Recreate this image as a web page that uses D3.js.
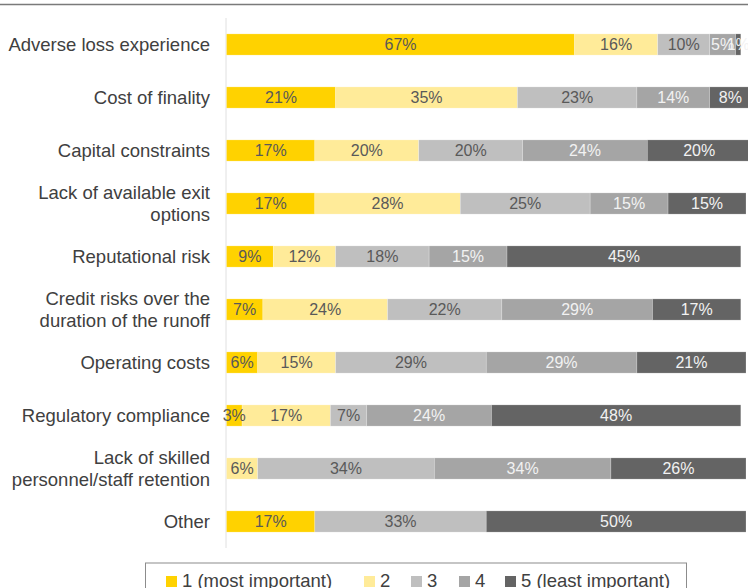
<!DOCTYPE html>
<html lang="en">
	<head>
		<meta charset="utf-8">
		<title>Runoff drivers - ranking</title>
		<script type="text/javascript" src="https://cdn.jsdelivr.net/npm/d3@7"></script>
		<style type="text/css">
			body { margin: 0; background: #fff; }
			svg { display: block; font-family: "Liberation Sans", Arial, sans-serif; }
		</style>
	</head>
	<body>
		<div id="chart"></div>
		<script type="text/javascript">

		// categories (top to bottom), each label split into its lines
		var categories = [
			["Adverse loss experience"],
			["Cost of finality"],
			["Capital constraints"],
			["Lack of available exit", "options"],
			["Reputational risk"],
			["Credit risks over the", "duration of the runoff"],
			["Operating costs"],
			["Regulatory compliance"],
			["Lack of skilled", "personnel/staff retention"],
			["Other"]
		];

		// share of respondents per rank, in %, one list per rank
		var rank1 = [67, 21, 17, 17,  9,  7,  6,  3,  0, 17];
		var rank2 = [16, 35, 20, 28, 12, 24, 15, 17,  6,  0];
		var rank3 = [10, 23, 20, 25, 18, 22, 29,  7, 34, 33];
		var rank4 = [ 5, 14, 24, 15, 15, 29, 29, 24, 34,  0];
		var rank5 = [ 1,  8, 20, 15, 45, 17, 21, 48, 26, 50];

		var seriesNames = ["1 (most important)", "2", "3", "4", "5 (least important)"];
		var colors = ["#ffd200", "#ffeb99", "#bfbfbf", "#a5a5a5", "#646464"];
		var labelColors = ["#595959", "#595959", "#595959", "#f2f2f2", "#f2f2f2"];

		var w = 748;
		var h = 588;

		var svg = d3.select("#chart")
					.append("svg")
					.attr("width", w)
					.attr("height", h);

		// build rows for the stack
		var rows = categories.map(function(c, i) {
			return { key: i, r0: rank1[i], r1: rank2[i], r2: rank3[i], r3: rank4[i], r4: rank5[i] };
		});
		var stack = d3.stack().keys(["r0", "r1", "r2", "r3", "r4"]);
		var stacked = stack(rows);

		var x = d3.scaleLinear().domain([0, 100]).range([226.5, 746]);
		var y = d3.scaleBand()
					.domain(d3.range(categories.length))
					.range([18, 548])
					.paddingInner(0.6)
					.paddingOuter(0.3);

		// top rule
		svg.append("line")
			.attr("x1", 0).attr("x2", w)
			.attr("y1", 4.5).attr("y2", 4.5)
			.attr("stroke", "#7a7a7a")
			.attr("stroke-width", 1.5);

		// vertical axis line
		svg.append("line")
			.attr("x1", 226).attr("x2", 226)
			.attr("y1", 18).attr("y2", 548)
			.attr("stroke", "#e0e0e0")
			.attr("stroke-width", 1);

		// bars
		var layers = svg.selectAll("g.layer")
			.data(stacked)
			.enter()
			.append("g")
			.attr("class", "layer")
			.attr("fill", function(d, i) { return colors[i]; });

		layers.selectAll("rect")
			.data(function(d) { return d.filter(function(p) { return p[1] > p[0]; }); })
			.enter()
			.append("rect")
			.attr("x", function(d) { return x(d[0]); })
			.attr("y", function(d) { return y(d.data.key); })
			.attr("width", function(d) { return x(d[1]) - x(d[0]); })
			.attr("height", y.bandwidth())
			.attr("stroke", "#ffffff")
			.attr("stroke-opacity", 0.35)
			.attr("stroke-width", 0.6);

		// value labels
		stacked.forEach(function(layer, li) {
			svg.append("g")
				.selectAll("text")
				.data(layer.filter(function(p) { return p[1] > p[0]; }))
				.enter()
				.append("text")
				.attr("x", function(d) { return (x(d[0]) + x(d[1])) / 2; })
				.attr("y", function(d) { return y(d.data.key) + y.bandwidth() / 2; })
				.attr("dy", "0.36em")
				.attr("text-anchor", "middle")
				.attr("font-size", 16)
				.attr("fill", labelColors[li])
				.text(function(d) { return (d[1] - d[0]) + "%"; });
		});

		// category labels
		var catLabels = svg.append("g")
			.selectAll("text")
			.data(categories)
			.enter()
			.append("text")
			.attr("text-anchor", "end")
			.attr("font-size", 18.5)
			.attr("fill", "#404040")
			.attr("y", function(d, i) { return y(i) + y.bandwidth() / 2; });

		catLabels.selectAll("tspan")
			.data(function(d) { return d; })
			.enter()
			.append("tspan")
			.attr("x", 210)
			.attr("dy", function(t, j, nodes) {
				var n = nodes.length;
				return j === 0 ? (0.36 - (n - 1) * 0.6) + "em" : "1.2em";
			})
			.text(function(t) { return t; });

		// legend
		svg.append("rect")
			.attr("x", 145.5).attr("y", 563)
			.attr("width", 541).attr("height", 40)
			.attr("fill", "none")
			.attr("stroke", "#8c8c8c")
			.attr("stroke-width", 1);

		var legendX = [166, 364, 411, 459, 505];
		var legend = svg.selectAll("g.legend")
			.data(seriesNames)
			.enter()
			.append("g")
			.attr("class", "legend")
			.attr("transform", function(d, i) { return "translate(" + legendX[i] + ",576)"; });

		legend.append("rect")
			.attr("width", 11).attr("height", 11)
			.attr("fill", function(d, i) { return colors[i]; });

		legend.append("text")
			.attr("x", 16)
			.attr("y", 10.5)
			.attr("font-size", 18.5)
			.attr("fill", "#404040")
			.text(function(d) { return d; });

		</script>
	</body>
</html>
